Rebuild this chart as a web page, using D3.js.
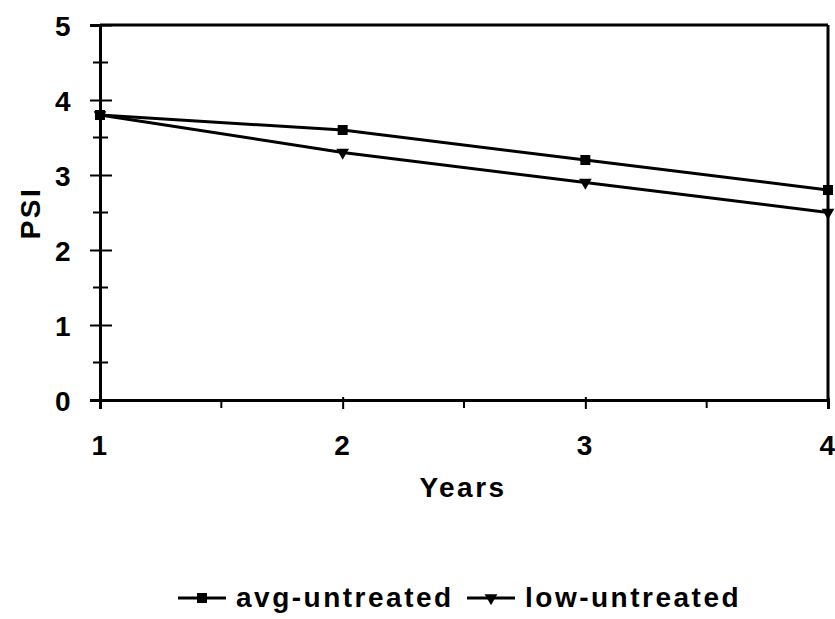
<!DOCTYPE html>
<html>
<head>
<meta charset="utf-8">
<script src="https://cdn.jsdelivr.net/npm/d3@7"></script>
<style>
  html, body { margin: 0; padding: 0; background: #fff; }
  svg text { font-family: Arial, "Liberation Sans", sans-serif; fill: #000; font-weight: bold; }
</style>
</head>
<body>
<svg id="chart" width="835" height="619"></svg>
<script>
const years = [1, 2, 3, 4];
const avgUntreated = [3.8, 3.6, 3.2, 2.8];
const lowUntreated = [3.8, 3.3, 2.9, 2.5];
const yTicks = [0, 1, 2, 3, 4, 5];
const yMinorTicks = [0.5, 1.5, 2.5, 3.5, 4.5];
const xTicks = [1, 2, 3, 4];
const xMinorTicks = [1.5, 2.5, 3.5];
const seriesNames = ["avg-untreated", "low-untreated"];

const svg = d3.select("#chart");
const pLeft = 100, pRight = 828, pTop = 25, pBottom = 400;
const x = d3.scaleLinear().domain([1, 4]).range([pLeft, pRight]);
const y = d3.scaleLinear().domain([0, 5]).range([pBottom, pTop]);

const fontSize = 28, ls = "2.5px";
const ff = "Arial, 'Liberation Sans', sans-serif";

// frame (top & right)
svg.append("line").attr("x1", pLeft).attr("x2", pRight).attr("y1", pTop).attr("y2", pTop)
  .attr("stroke", "#000").attr("stroke-width", 3);
svg.append("line").attr("x1", pRight).attr("x2", pRight).attr("y1", pTop).attr("y2", pBottom)
  .attr("stroke", "#000").attr("stroke-width", 3);

// Y axis
const yAxis = svg.append("g").attr("transform", `translate(${pLeft},0)`)
  .call(d3.axisLeft(y).tickValues(yTicks).tickSize(10).tickPadding(17).tickFormat(d3.format("d")));
yAxis.select(".domain").attr("stroke-width", 3);
yAxis.selectAll(".tick line").attr("stroke-width", 2).attr("x2", 12).attr("x1", -10);
yAxis.selectAll(".tick text").attr("font-size", fontSize).style("letter-spacing", ls)
  .attr("font-family", ff).attr("font-weight", "bold").attr("dy", "0.36em");
svg.append("g").selectAll("line").data(yMinorTicks).join("line")
  .attr("x1", pLeft - 7).attr("x2", pLeft + 8).attr("y1", d => y(d)).attr("y2", d => y(d))
  .attr("stroke", "#000").attr("stroke-width", 2);

// X axis
const xAxis = svg.append("g").attr("transform", `translate(0,${pBottom})`)
  .call(d3.axisBottom(x).tickValues(xTicks).tickSize(9).tickPadding(26).tickFormat(d3.format("d")));
xAxis.select(".domain").attr("stroke-width", 3);
xAxis.selectAll(".tick line").attr("stroke-width", 2).attr("y1", -3);
xAxis.selectAll(".tick text").attr("font-size", fontSize).style("letter-spacing", ls)
  .attr("font-family", ff).attr("font-weight", "bold");
svg.append("g").selectAll("line").data(xMinorTicks).join("line")
  .attr("x1", d => x(d)).attr("x2", d => x(d)).attr("y1", pBottom).attr("y2", pBottom + 8)
  .attr("stroke", "#000").attr("stroke-width", 2);

// axis titles
svg.append("text").attr("x", 463).attr("y", 497).attr("text-anchor", "middle")
  .attr("font-size", fontSize).style("letter-spacing", ls).text("Years");
svg.append("text").attr("transform", "translate(40,213) rotate(-90)").attr("text-anchor", "middle")
  .attr("font-size", fontSize).style("letter-spacing", ls).text("PSI");

// lines
const line = d3.line().x((d, i) => x(years[i])).y(d => y(d));
const allSeries = [avgUntreated, lowUntreated];
svg.append("g").selectAll("path").data(allSeries).join("path")
  .attr("d", line).attr("fill", "none").attr("stroke", "#000").attr("stroke-width", 3);

const sq = d3.symbol().type(d3.symbolSquare).size(100);
const tri = d3.symbol().type(d3.symbolTriangle).size(70);

svg.append("g").selectAll("path").data(avgUntreated).join("path")
  .attr("d", sq).attr("transform", (d, i) => `translate(${x(years[i])},${y(d)})`).attr("fill", "#000");
svg.append("g").selectAll("path").data(lowUntreated).join("path")
  .attr("d", tri).attr("transform", (d, i) => `translate(${x(years[i])},${y(d)}) rotate(180)`).attr("fill", "#000");

// legend
const legendY = 598;
const legendItems = [
  { name: seriesNames[0], x0: 178, sym: sq, rot: 0 },
  { name: seriesNames[1], x0: 467, sym: tri, rot: 180 }
];
const lg = svg.append("g").selectAll("g").data(legendItems).join("g");
lg.append("line").attr("x1", d => d.x0).attr("x2", d => d.x0 + 48).attr("y1", legendY).attr("y2", legendY)
  .attr("stroke", "#000").attr("stroke-width", 3);
lg.append("path").attr("d", d => d.sym()).attr("transform", d => `translate(${d.x0 + 24},${legendY}) rotate(${d.rot})`)
  .attr("fill", "#000");
lg.append("text").attr("x", d => d.x0 + 58).attr("y", legendY + 9).attr("font-size", fontSize)
  .style("letter-spacing", ls).text(d => d.name);
</script>
</body>
</html>
